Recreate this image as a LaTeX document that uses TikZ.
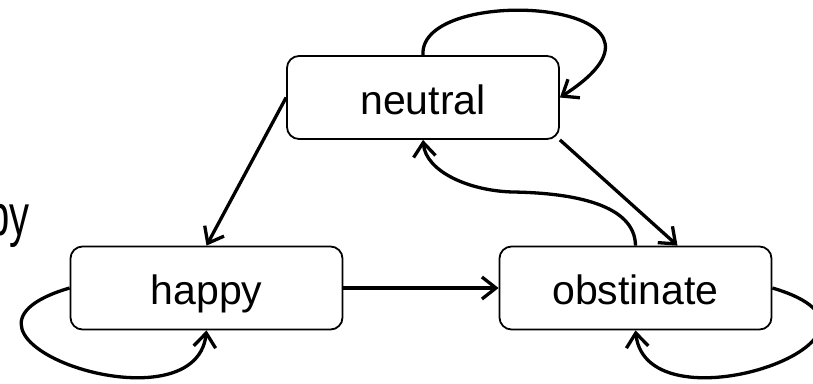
\documentclass[tikz,border=0pt]{standalone}
\usepackage{fontspec}
\setmainfont{Liberation Sans}
\usetikzlibrary{arrows.meta}
\tikzset{
  state/.style={draw=black, line width=1.8pt, rounded corners=12pt, fill=white,
    minimum width=272pt, minimum height=83pt, inner sep=0pt,
    text height=33pt, text depth=0pt, font=\fontsize{41}{49}\selectfont},
  conn/.style={draw=black, line width=3.3pt,
    -{Straight Barb[length=14pt,width=22pt,line width=3.3pt]}},
}
\begin{document}
\begin{tikzpicture}[x=1pt,y=-1pt]
\useasboundingbox (0,0) rectangle (813,383);
\node[anchor=base east, inner sep=0pt, yscale=1.45, font=\fontsize{40}{48}\selectfont] (frag) at (30,235) {py};
\node[state] (neutral) at (423,97.5) {neutral};
\node[state] (happy) at (206.5,288) {happy};
\node[state] (obst) at (635.5,288) {obstinate};
\draw[conn] (neutral.west) -- (happy.north);
\draw[conn] (happy.east) -- (obst.west);
\draw[conn] (neutral.south east) -- ([xshift=42pt]obst.north);
\draw[conn] (obst.north) .. controls (635,205) and (575,193) .. (513,192)
  .. controls (470,191) and (426,172) .. (neutral.south);
\draw[conn] (neutral.north) .. controls (418,-18) and (712,0) .. (neutral.east);
\draw[conn] (happy.west) .. controls (-90,335) and (195,435) .. (happy.south);
\draw[conn] (obst.east) .. controls (932,335) and (647,435) .. (obst.south);
\end{tikzpicture}
\end{document}
